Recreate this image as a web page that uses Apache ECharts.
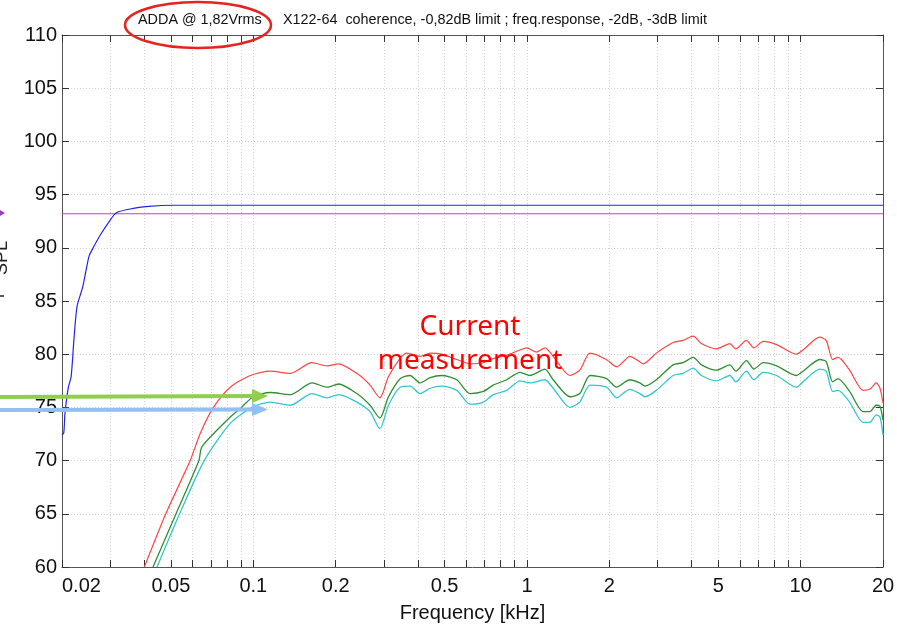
<!DOCTYPE html>
<html>
<head>
<meta charset="utf-8">
<title>ADDA frequency response</title>
<script src="https://cdn.jsdelivr.net/npm/echarts@6/dist/echarts.min.js"></script>
<style>
  html, body { margin: 0; padding: 0; background: #fff; }
  #freq-chart { width: 897px; height: 624px; }
</style>
</head>
<body>
<div id="freq-chart"></div>
<script>
// x ticks (kHz), MATLAB style: every 1..9 of each decade
const xTickValues = [0.02, 0.03, 0.04, 0.05, 0.06, 0.07, 0.08, 0.09,
  0.1, 0.2, 0.3, 0.4, 0.5, 0.6, 0.7, 0.8, 0.9,
  1, 2, 3, 4, 5, 6, 7, 8, 9, 10, 20];
const xLabelValues = [0.02, 0.05, 0.1, 0.2, 0.5, 1, 2, 5, 10, 20];

// reference level (purple)
const refLevel = 93.2;

// blue : measured level
const blueFreq = [0.02, 0.0203, 0.0205, 0.0211, 0.0216, 0.0221, 0.0227, 0.0238, 0.0251, 0.026,
  0.0276, 0.03, 0.0316, 0.0364, 0.0415, 0.051, 0.1, 1, 10, 20];
const blueSpl = [72.4, 72.6, 74.4, 76.9, 77.9, 81.3, 84.5, 86.3, 89.2, 90.0,
  91.2, 92.6, 93.3, 93.7, 93.9, 94.0, 94.0, 94.0, 94.0, 94.0];

// red : freq. response
const redFreq = [0.040, 0.0479, 0.0588, 0.0641, 0.0715, 0.0824, 0.0975, 0.1154, 0.1365, 0.1637,
  0.1858, 0.2049, 0.239, 0.267, 0.290, 0.312, 0.344, 0.364, 0.407, 0.443,
  0.488, 0.554, 0.619, 0.693, 0.753, 0.843, 0.943, 0.997, 1.085, 1.163,
  1.247, 1.436, 1.56, 1.70, 1.95, 2.13, 2.38, 2.58, 2.66, 2.97,
  3.42, 3.72, 4.05, 4.34, 4.93, 5.51, 5.80, 6.34, 6.75, 7.30,
  8.17, 9.65, 10.2, 11.75, 12.4, 13.1, 13.7, 15.1, 16.9, 17.9,
  18.9, 19.5, 20];
const redSpl = [60.0, 65.0, 70.0, 72.6, 75.0, 76.9, 78.0, 78.4, 78.2, 79.2,
  78.9, 79.1, 78.2, 77.1, 75.9, 77.9, 79.6, 80.1, 79.8, 80.1,
  80.0, 79.5, 79.1, 79.2, 79.6, 79.9, 80.4, 80.6, 80.2, 80.6,
  79.8, 78.0, 78.5, 80.1, 79.5, 78.8, 79.8, 79.3, 79.1, 80.1,
  81.1, 81.3, 81.7, 81.0, 80.5, 81.0, 80.5, 81.3, 80.6, 81.2,
  80.9, 80.0, 80.4, 81.6, 81.3, 79.5, 79.7, 78.5, 76.6, 76.7,
  77.3, 76.8, 75.4];

// green : -2dB limit
const greenFreq = [0.043, 0.0522, 0.0633, 0.0649, 0.0824, 0.0905, 0.1, 0.1154, 0.1365, 0.164,
  0.186, 0.205, 0.239, 0.267, 0.290, 0.312, 0.344, 0.374, 0.407, 0.443,
  0.488, 0.554, 0.619, 0.693, 0.753, 0.843, 0.943, 1.025, 1.163, 1.247,
  1.436, 1.56, 1.70, 1.954, 2.125, 2.375, 2.585, 2.70, 2.97, 3.42,
  3.72, 4.05, 4.34, 4.93, 5.51, 5.80, 6.34, 6.75, 7.30, 8.17,
  9.65, 10.2, 11.75, 12.4, 13.1, 13.7, 15.1, 16.9, 17.9, 18.9,
  19.5, 20];
const greenSpl = [60.0, 65.0, 70.0, 71.3, 74.1, 75.0, 76.0, 76.4, 76.2, 77.3,
  76.9, 77.2, 76.3, 75.2, 74.0, 76.0, 77.7, 78.0, 77.3, 77.8,
  78.0, 77.6, 76.3, 76.5, 77.1, 77.6, 78.3, 78.0, 78.6, 77.6,
  76.0, 76.3, 78.0, 77.7, 76.9, 77.6, 77.3, 77.0, 77.6, 79.0,
  79.2, 79.7, 79.0, 78.5, 79.0, 78.4, 79.4, 78.6, 79.2, 78.9,
  78.0, 78.4, 79.5, 79.3, 77.4, 77.7, 76.5, 74.6, 74.6, 75.2,
  75.1, 73.8];

// cyan : -3dB limit
const cyanFreq = [0.0445, 0.0538, 0.0662, 0.0824, 0.0989, 0.1154, 0.1365, 0.164, 0.186, 0.205,
  0.239, 0.267, 0.290, 0.312, 0.344, 0.374, 0.407, 0.443, 0.488, 0.554,
  0.619, 0.693, 0.753, 0.843, 0.943, 1.025, 1.163, 1.247, 1.436, 1.56,
  1.70, 1.954, 2.125, 2.375, 2.585, 2.70, 2.97, 3.42, 3.72, 4.05,
  4.34, 4.93, 5.51, 5.80, 6.34, 6.75, 7.30, 8.17, 9.65, 10.2,
  11.75, 12.4, 13.1, 13.7, 15.1, 16.9, 17.9, 18.9, 19.5, 20];
const cyanSpl = [60.0, 65.0, 70.0, 73.5, 75.0, 75.5, 75.2, 76.3, 75.9, 76.2,
  75.5, 74.6, 73.0, 75.2, 76.9, 77.0, 76.3, 76.8, 77.0, 76.6,
  75.3, 75.5, 76.2, 76.6, 77.5, 77.3, 77.6, 76.8, 75.0, 75.5,
  77.1, 76.9, 75.9, 76.7, 76.3, 76.0, 76.6, 78.0, 78.2, 78.7,
  78.0, 77.5, 78.0, 77.4, 78.4, 77.6, 78.3, 78.0, 76.9, 77.4,
  78.6, 78.4, 76.5, 76.6, 75.5, 73.6, 73.6, 74.3, 74.1, 72.4];

function pairs(xs, ys) {
  return xs.map((x, i) => [x, ys[i]]);
}

const chart = echarts.init(document.getElementById('freq-chart'), null, { renderer: 'canvas' });

const axisColor = '#555';
const gridLine = { show: true, lineStyle: { color: '#d2d2d2', type: [1, 2], width: 1 } };

function lineSeries(name, data, color, width) {
  return {
    name: name,
    type: 'line',
    data: data,
    showSymbol: false,
    smooth: 0.25,
    clip: true,
    lineStyle: { color: color, width: width || 1.2 },
    itemStyle: { color: color },
    xAxisIndex: 0,
    yAxisIndex: 0
  };
}

const option = {
  backgroundColor: '#fff',
  animation: false,
  textStyle: { fontFamily: 'Liberation Sans, Arial, sans-serif' },
  title: [
    {
      text: 'ADDA @ 1,82Vrms',
      left: 138, top: 13, padding: 0,
      textStyle: { fontSize: 14.4, fontWeight: 'normal', color: '#111' }
    },
    {
      text: 'X122-64  coherence, -0,82dB limit ; freq.response, -2dB, -3dB limit',
      left: 283, top: 13, padding: 0,
      textStyle: { fontSize: 14.4, fontWeight: 'normal', color: '#111' }
    }
  ],
  // fixed plot box, labels may sit outside of it
  grid: { left: 62, right: 14, top: 35, bottom: 57, containLabel: false, outerBoundsMode: 'none' },
  xAxis: [
    {
      type: 'log',
      min: 0.02,
      max: 20,
      position: 'bottom',
      name: 'Frequency [kHz]',
      nameLocation: 'middle',
      nameGap: 36,
      nameTextStyle: { fontSize: 20, color: '#111' },
      axisLine: { show: true, onZero: false, lineStyle: { color: axisColor } },
      axisTick: { show: true, inside: true, length: 7, customValues: xTickValues, lineStyle: { color: '#333' } },
      axisLabel: {
        customValues: xLabelValues,
        fontSize: 20,
        color: '#111',
        margin: 9,
        alignMinLabel: 'left',
        formatter: v => String(+Number(v).toPrecision(2))
      },
      splitLine: gridLine,
      minorTick: { show: false },
      minorSplitLine: { show: false }
    },
    {
      type: 'log',
      min: 0.02,
      max: 20,
      position: 'top',
      axisLine: { show: true, onZero: false, lineStyle: { color: axisColor } },
      axisTick: { show: true, inside: true, length: 7, customValues: xTickValues, lineStyle: { color: '#333' } },
      axisLabel: { show: false },
      splitLine: { show: false }
    }
  ],
  yAxis: [
    {
      type: 'value',
      min: 60,
      max: 110,
      interval: 5,
      position: 'left',
      axisLine: { show: true, onZero: false, lineStyle: { color: axisColor } },
      axisTick: { show: true, inside: true, length: 7, lineStyle: { color: '#333' } },
      axisLabel: { fontSize: 20, color: '#111', margin: 5 },
      splitLine: gridLine
    },
    {
      type: 'value',
      min: 60,
      max: 110,
      interval: 5,
      position: 'right',
      axisLine: { show: true, onZero: false, lineStyle: { color: axisColor } },
      axisTick: { show: true, inside: true, length: 7, lineStyle: { color: '#333' } },
      axisLabel: { show: false },
      splitLine: { show: false }
    }
  ],
  series: [
    lineSeries('ref', [[0.02, refLevel], [20, refLevel]], '#c03cc8', 1.2),
    lineSeries('SPL', pairs(blueFreq, blueSpl), '#2222ee', 1.2),
    lineSeries('freq.response', pairs(redFreq, redSpl), '#ff4545', 1.2),
    lineSeries('-2dB', pairs(greenFreq, greenSpl), '#2f8f35', 1.3),
    lineSeries('-3dB', pairs(cyanFreq, cyanSpl), '#35c5cf', 1.3)
  ],
  // hand-drawn annotations on the screenshot
  graphic: [
    {
      type: 'ellipse',
      shape: { cx: 198, cy: 25, rx: 73, ry: 23 },
      style: { fill: 'none', stroke: '#e5231f', lineWidth: 2.5 },
      z: 100
    },
    {
      type: 'text',
      x: 470, y: 327,
      style: { text: 'Current', fill: '#ff0000', font: '28px "Noto Sans", sans-serif', align: 'center', verticalAlign: 'middle' },
      z: 100
    },
    {
      type: 'text',
      x: 470, y: 361,
      style: { text: 'measurement', fill: '#ff0000', font: '28px "Noto Sans", sans-serif', align: 'center', verticalAlign: 'middle' },
      z: 100
    },
    {
      type: 'line',
      shape: { x1: 0, y1: 397, x2: 254, y2: 396 },
      style: { stroke: '#8fce4f', lineWidth: 4 },
      z: 100
    },
    {
      type: 'polygon',
      shape: { points: [[252, 389], [268, 396], [252, 403]] },
      style: { fill: '#8fce4f' },
      z: 100
    },
    {
      type: 'line',
      shape: { x1: 0, y1: 410, x2: 254, y2: 409.5 },
      style: { stroke: '#93bff2', lineWidth: 4 },
      z: 100
    },
    {
      type: 'polygon',
      shape: { points: [[252, 403], [268, 409.5], [252, 416]] },
      style: { fill: '#93bff2' },
      z: 100
    },
    // clipped y-axis label at the left border
    {
      type: 'text',
      x: -7, y: 258,
      rotation: Math.PI / 2,
      style: { text: 'SPL', fill: '#222', font: '18px "Liberation Sans", Arial, sans-serif', align: 'center', verticalAlign: 'top' },
      z: 100
    },
    {
      type: 'polygon',
      shape: { points: [[0, 210], [5, 213], [0, 216]] },
      style: { fill: '#9a3cc8' },
      z: 100
    },
    {
      type: 'line',
      shape: { x1: 0, y1: 296, x2: 4, y2: 296 },
      style: { stroke: '#222', lineWidth: 1.5 },
      z: 100
    }
  ]
};

chart.setOption(option);
</script>
</body>
</html>
